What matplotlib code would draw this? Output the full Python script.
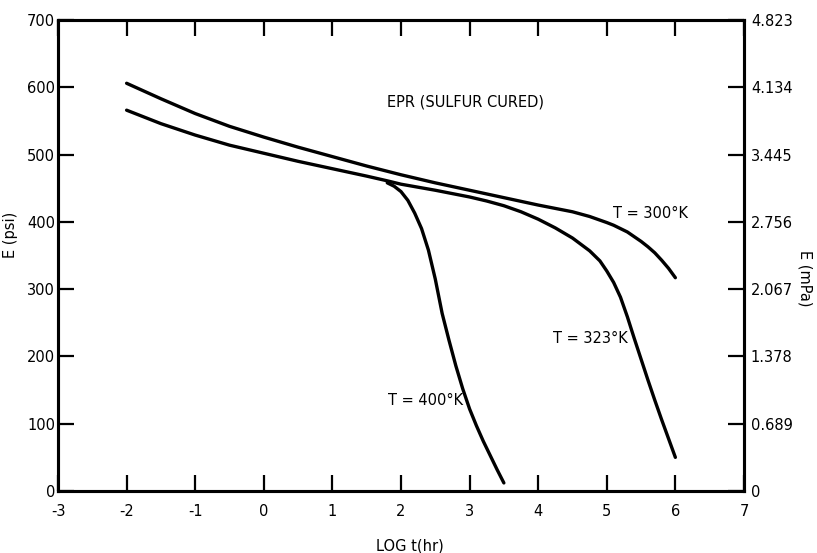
import matplotlib
matplotlib.use("Agg")
import matplotlib.pyplot as plt

# Data
x_300 = [-2, -1.5, -1, -0.5, 0, 0.5, 1, 1.5, 2, 2.5, 3, 3.5, 4, 4.5, 4.75, 5, 5.1, 5.2, 5.3, 5.4, 5.5, 5.6, 5.7, 5.8, 5.9, 6]
e_300 = [606, 583, 561, 542, 526, 511, 497, 483, 470, 458, 447, 436, 425, 415, 408, 399, 395, 390, 385, 378, 371, 363, 354, 343, 331, 317]

x_323 = [-2, -1.5, -1, -0.5, 0, 0.5, 1, 1.5, 1.8, 2, 2.5, 3, 3.25, 3.5, 3.75, 4, 4.25, 4.5, 4.75, 4.9, 5.0, 5.1, 5.2, 5.3, 5.4, 5.5, 5.6, 5.7, 5.8, 5.9, 6.0]
e_323 = [566, 546, 529, 514, 502, 490, 479, 468, 461, 456, 447, 437, 431, 424, 415, 404, 391, 376, 357, 342, 327, 310, 288, 259, 227, 196, 165, 135, 106, 78, 50]

x_400 = [1.8, 1.9, 2.0, 2.1, 2.2, 2.3, 2.4, 2.5, 2.6, 2.7, 2.8, 2.9, 3.0, 3.1, 3.2, 3.3, 3.4, 3.5]
e_400 = [458, 453, 445, 432, 413, 390, 358, 315, 264, 224, 186, 152, 122, 97, 74, 53, 32, 12]

x_ticks = [-3, -2, -1, 0, 1, 2, 3, 4, 5, 6, 7]
y_ticks = [0, 100, 200, 300, 400, 500, 600, 700]
y2_ticks = [0, 0.689, 1.378, 2.067, 2.756, 3.445, 4.134, 4.823]
y2_labels = ["0", "0.689", "1.378", "2.067", "2.756", "3.445", "4.134", "4.823"]

plt.rcParams['font.family'] = ['DejaVu Sans']

fig = plt.figure(figsize=(8.17, 5.53), dpi=100)
ax = fig.add_axes([0.071, 0.1121, 0.8396, 0.8517])

lw = 2.4
for xs, es in ((x_300, e_300), (x_323, e_323), (x_400, e_400)):
    ax.plot(xs, es, color='black', lw=lw, solid_capstyle='round', solid_joinstyle='round')

ax.set_xlim(-3, 7)
ax.set_ylim(0, 700)
ax.set_xticks(x_ticks)
ax.set_yticks(y_ticks)
ax.set_xticklabels([str(v) for v in x_ticks])
ax.set_yticklabels([str(v) for v in y_ticks])

for s in ax.spines.values():
    s.set_linewidth(2.2)

ax.tick_params(axis='x', direction='in', length=11.5, width=1.6, top=True, pad=9, labelsize=10.5)
ax.tick_params(axis='y', direction='in', length=11.5, width=1.6, pad=2, labelsize=10.5)

ax2 = ax.twinx()
ax2.set_position(ax.get_position())
ax2.set_ylim(0, 4.823)
ax2.set_yticks(y2_ticks)
ax2.set_yticklabels(y2_labels)
ax2.tick_params(axis='y', direction='in', length=11.5, width=1.6, pad=5, labelsize=10.5)
for s in ax2.spines.values():
    s.set_linewidth(2.2)

ax.set_xlabel("LOG t(hr)", fontsize=10.5)
ax.xaxis.set_label_coords(0.513, -0.1)
ax.set_ylabel("E (psi)", fontsize=10.5)
ax.yaxis.set_label_coords(-0.058, 0.544)
ax2.set_ylabel("E (mPa)", fontsize=10.5, rotation=270, va='center')
ax2.yaxis.set_label_coords(1.089, 0.452)

ax.text(1.80, 578, "EPR (SULFUR CURED)", fontsize=10.5, ha='left', va='center')
ax.text(5.09, 413, "T = 300°K", fontsize=10.5, ha='left', va='center')
ax.text(4.22, 227, "T = 323°K", fontsize=10.5, ha='left', va='center')
ax.text(1.81, 135, "T = 400°K", fontsize=10.5, ha='left', va='center')

fig.savefig("out.png", dpi=100)
